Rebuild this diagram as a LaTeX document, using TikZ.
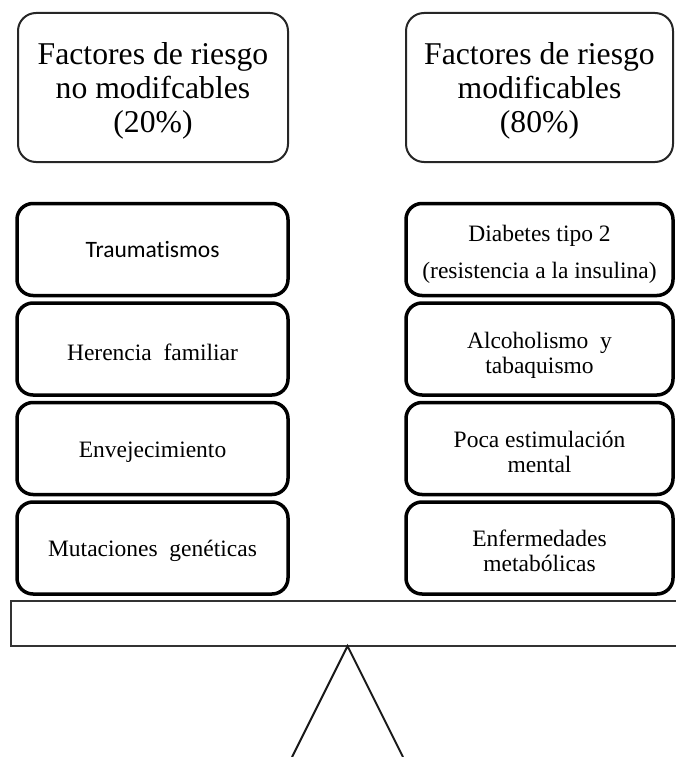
\documentclass[tikz,border=0pt]{standalone}
\usepackage{fontspec}
\setmainfont{Liberation Serif}
\newfontfamily\calfont[Ligatures=NoCommon]{Carlito}
\begin{document}
\begin{tikzpicture}[x=1pt,y=-1pt,
  headbox/.style={draw=black!85, line width=2pt, rounded corners=18pt, minimum width=270pt, minimum height=149pt, inner sep=0pt},
  headtext/.style={inner sep=0pt, align=center, font=\fontsize{31.7}{34}\selectfont},
  itembox/.style={draw=black, line width=3.5pt, rounded corners=16pt, minimum height=92pt, inner sep=0pt},
  lbox/.style={itembox, minimum width=271pt},
  rbox/.style={itembox, minimum width=267pt},
  itemtext/.style={inner sep=0pt, align=center, font=\fontsize{23.5}{25}\selectfont},
  beamline/.style={draw=black!80, line width=2pt},
  legline/.style={draw=black!90, line width=2pt}
]
\useasboundingbox (0,0) rectangle (675,757);
\node[headbox] (hl) at (153,87.5) {};
\node[headbox, minimum width=267pt] (hr) at (539.5,87.5) {};
\node[headtext] (hlt) at ([yshift=-3pt]hl.center) {Factores de riesgo\\no modifcables\\(20\%)};
\node[headtext] (hrt) at ([yshift=-3pt]hr.center) {Factores de riesgo\\modificables\\(80\%)};

\node[lbox] (l1) at (152.5,249.5) {};
\node[lbox] (l2) at (152.5,349) {};
\node[lbox] (l3) at (152.5,448.5) {};
\node[lbox] (l4) at (152.5,548) {};
\node[rbox] (r1) at (539.5,249.5) {};
\node[rbox] (r2) at (539.5,349) {};
\node[rbox] (r3) at (539.5,448.5) {};
\node[rbox] (r4) at (539.5,548) {};

\node[itemtext] (l1t) at (l1.center) {\calfont Traumatismos};
\node[itemtext] (l2t) at ([yshift=-3pt]l2.center) {Herencia\ \ familiar};
\node[itemtext] (l3t) at ([yshift=-3.5pt]l3.center) {Envejecimiento};
\node[itemtext] (l4t) at ([yshift=-3pt]l4.center) {Mutaciones\ \ genéticas};
\node[itemtext] (r1t) at ([yshift=-5pt]r1.center) {Diabetes tipo 2\\[12pt](resistencia a la insulina)};
\node[itemtext] (r2t) at ([yshift=-6pt]r2.center) {Alcoholismo\ \ y\\tabaquismo};
\node[itemtext] (r3t) at ([yshift=-3pt]r3.center) {Poca estimulación\\mental};
\node[itemtext] (r4t) at ([yshift=-3pt]r4.center) {Enfermedades\\metabólicas};

\coordinate (bl) at (11,601);
\coordinate (br) at (678,645.5);
\draw[beamline] (678,601) -- (bl) -- (11,645.5) -- (br);
\coordinate (apex) at (347.5,646);
\coordinate (footl) at (292,757);
\coordinate (footr) at (403,757);
\draw[legline] (footl) -- (apex) -- (footr);
\end{tikzpicture}
\end{document}
